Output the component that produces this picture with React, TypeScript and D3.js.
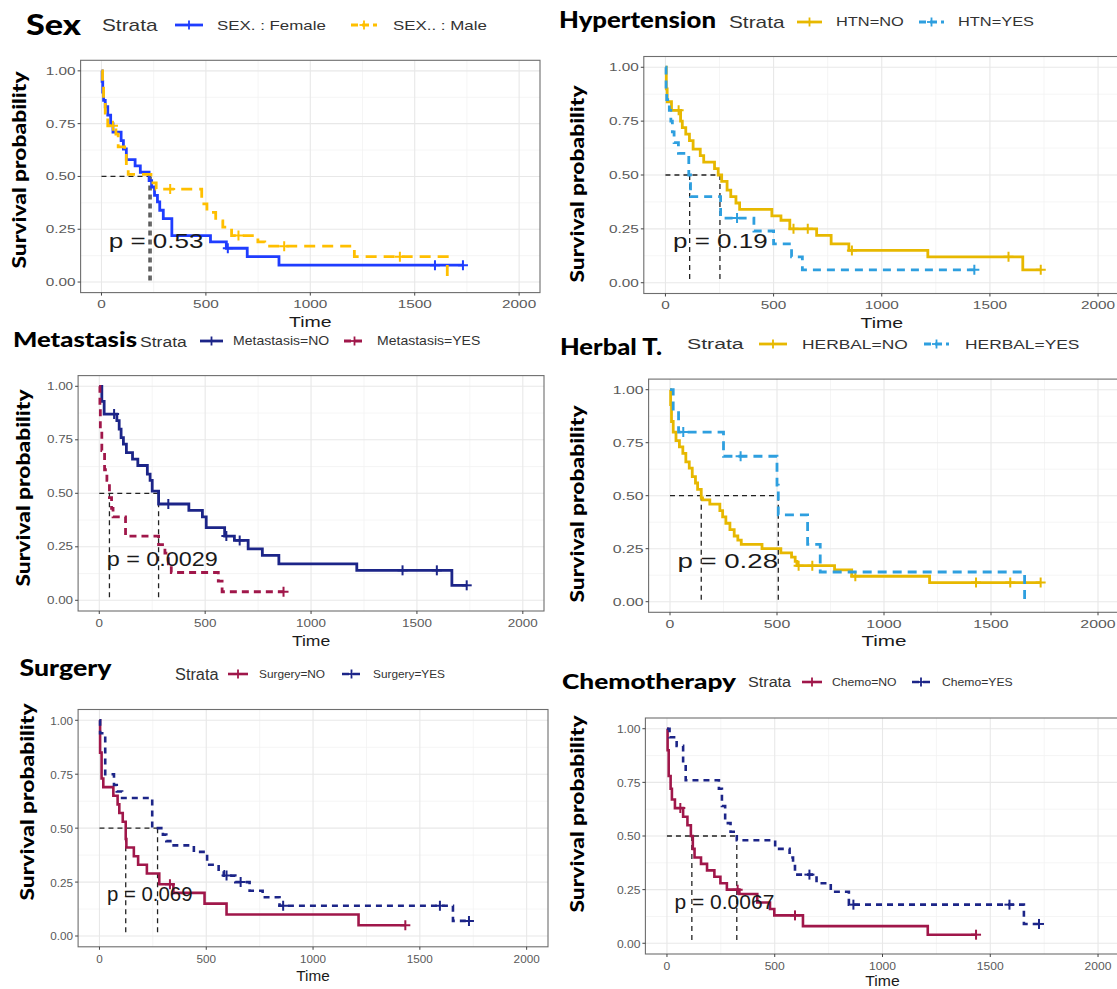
import React from 'react';
import * as d3 from 'd3';

type Step = [number, number];

// axis ticks
const timeTicks = [0, 500, 1000, 1500, 2000];
const timeMinor = [250, 750, 1250, 1750];
const survTicks = [0, 0.25, 0.5, 0.75, 1];
const survMinor = [0.125, 0.375, 0.625, 0.875];
const survLabels = ['0.00', '0.25', '0.50', '0.75', '1.00'];

// Sex
const sexFemaleSteps: Step[] = [[3, 0.95], [6, 0.9], [10, 0.86], [18, 0.83], [30, 0.79], [44, 0.75], [55, 0.71], [94, 0.67], [105, 0.63], [119, 0.58], [161, 0.55], [186, 0.52], [228, 0.48], [240, 0.45], [254, 0.41], [268, 0.38], [279, 0.34], [296, 0.3], [337, 0.22], [522, 0.19], [598, 0.16], [698, 0.12], [850, 0.08]];
const sexFemaleCensor = [605, 1597, 1731];
const sexMaleSteps: Step[] = [[5, 0.93], [10, 0.87], [18, 0.8], [30, 0.74], [69, 0.7], [80, 0.64], [111, 0.6], [119, 0.55], [128, 0.51], [237, 0.47], [262, 0.44], [480, 0.37], [505, 0.33], [547, 0.29], [581, 0.26], [623, 0.22], [749, 0.19], [782, 0.17], [1211, 0.12], [1656, 0.0]];
const sexMaleCensor = [55, 329, 656, 875, 1429];

// Hypertension
const htnNoSteps: Step[] = [[4, 0.9], [8, 0.84], [28, 0.8], [70, 0.75], [78, 0.72], [94, 0.69], [111, 0.66], [128, 0.62], [161, 0.59], [177, 0.56], [227, 0.53], [244, 0.5], [260, 0.47], [285, 0.43], [302, 0.4], [326, 0.37], [343, 0.34], [492, 0.31], [534, 0.29], [575, 0.25], [699, 0.22], [766, 0.18], [848, 0.15], [1213, 0.12], [1652, 0.06]];
const htnNoCensor = [61, 592, 658, 862, 1586, 1735];
const htnYesSteps: Step[] = [[3, 0.9], [6, 0.85], [18, 0.8], [25, 0.75], [32, 0.7], [40, 0.65], [60, 0.6], [108, 0.5], [116, 0.4], [255, 0.3], [409, 0.24], [500, 0.18], [583, 0.12], [633, 0.06]];
const htnYesCensor = [331, 1428];

// Metastasis
const metNoSteps: Step[] = [[12, 0.93], [23, 0.87], [83, 0.84], [94, 0.8], [103, 0.76], [114, 0.73], [128, 0.69], [157, 0.66], [182, 0.63], [227, 0.59], [240, 0.56], [250, 0.51], [280, 0.45], [423, 0.42], [487, 0.39], [505, 0.34], [592, 0.3], [638, 0.28], [703, 0.24], [770, 0.21], [848, 0.17], [1216, 0.14], [1665, 0.07]];
const metNoCensor = [70, 326, 600, 663, 1432, 1594, 1735];
const metYesSteps: Step[] = [[3, 0.91], [5, 0.8], [12, 0.7], [25, 0.61], [36, 0.56], [48, 0.48], [58, 0.43], [65, 0.39], [124, 0.3], [280, 0.26], [310, 0.22], [326, 0.17], [340, 0.13], [562, 0.09], [580, 0.04]];
const metYesCensor = [870];

// Herbal treatment
const herbNoSteps: Step[] = [[3, 0.93], [7, 0.85], [15, 0.8], [28, 0.76], [44, 0.73], [60, 0.7], [74, 0.66], [90, 0.63], [104, 0.59], [119, 0.56], [129, 0.53], [146, 0.49], [152, 0.48], [186, 0.46], [233, 0.43], [246, 0.4], [261, 0.37], [280, 0.34], [300, 0.31], [317, 0.29], [333, 0.27], [430, 0.25], [518, 0.23], [568, 0.21], [585, 0.19], [593, 0.17], [769, 0.15], [849, 0.12], [1213, 0.09]];
const herbNoCensor = [601, 665, 866, 1430, 1590, 1732];
const herbYesSteps: Step[] = [[15, 0.9], [40, 0.8], [250, 0.686], [500, 0.55], [506, 0.41], [643, 0.27], [702, 0.14], [1657, 0.0]];
const herbYesCensor = [62, 330];

// Surgery
const surgNoSteps: Step[] = [[3, 0.85], [10, 0.73], [18, 0.69], [65, 0.65], [85, 0.61], [93, 0.57], [109, 0.53], [123, 0.45], [126, 0.41], [161, 0.37], [181, 0.33], [222, 0.29], [280, 0.24], [346, 0.2], [492, 0.15], [595, 0.1], [1213, 0.05]];
const surgNoCensor = [330, 1432];
const surgYesSteps: Step[] = [[3, 0.94], [27, 0.75], [68, 0.7], [81, 0.67], [106, 0.64], [247, 0.5], [297, 0.47], [313, 0.44], [338, 0.42], [442, 0.39], [504, 0.33], [558, 0.3], [582, 0.28], [636, 0.25], [703, 0.21], [764, 0.18], [843, 0.14], [1655, 0.07]];
const surgYesCensor = [595, 661, 860, 1594, 1730];

// Chemotherapy
const chemoNoSteps: Step[] = [[3, 0.9], [8, 0.78], [17, 0.72], [23, 0.67], [37, 0.63], [75, 0.59], [95, 0.55], [111, 0.5], [120, 0.44], [128, 0.4], [158, 0.37], [186, 0.34], [220, 0.31], [248, 0.28], [278, 0.25], [336, 0.23], [419, 0.19], [478, 0.16], [498, 0.13], [631, 0.08], [1210, 0.04]];
const chemoNoCensor = [62, 328, 594, 1434];
const chemoYesSteps: Step[] = [[12, 0.96], [45, 0.92], [75, 0.84], [87, 0.76], [241, 0.72], [255, 0.64], [270, 0.56], [295, 0.52], [324, 0.48], [502, 0.44], [569, 0.4], [585, 0.36], [594, 0.32], [694, 0.28], [760, 0.24], [844, 0.18], [1656, 0.09]];
const chemoYesCensor = [661, 865, 1589, 1726];

const pValues = ['0.53', '0.19', '0.0029', '0.28', '0.069', '0.0067'];

const GOLD = '#E7B800';
const SKY = '#2E9FDF';
const NAVY = '#1c2588';
const CRIMSON = '#a0174a';

interface Curve {
  label: string;
  steps: Step[];
  censor: number[];
  end: number;
  color: string;
  dashed: boolean;
}

interface PanelCfg {
  title: string;
  titlePos: [number, number, number, number]; // x, baseline, size, width
  frame: { x: number; y: number; w: number; h: number };
  sx: number;
  legendY: number;
  strataX: number;
  strataSize: number;
  keys: [number, number, number][]; // key start, key end, label x
  labelSize: number;
  tickSize: number;
  ylab: [number, number];
  lw: number;
  dash: string;
  p: string;
  curves: Curve[];
}

const FONT = "'Liberation Sans', Arial, Helvetica, sans-serif";
const TITLE_FONT = "Lato, 'Open Sans', sans-serif";

function survAt(steps: Step[], t: number) {
  let s = 1;
  for (const [st, sv] of steps) if (st <= t) s = sv;
  return s;
}

// survfit-style median: first time S < 0.5, midpoint if S sits exactly at 0.5
function medianOf(steps: Step[]) {
  for (let i = 0; i < steps.length; i++) {
    const [t, s] = steps[i];
    if (s < 0.5) return t;
    if (s === 0.5) return i + 1 < steps.length ? (t + steps[i + 1][0]) / 2 : t;
  }
  return NaN;
}

const lastOf = (steps: Step[], censor: number[]) =>
  Math.max(steps[steps.length - 1][0], censor.length ? censor[censor.length - 1] : 0);

const mk = (label: string, steps: Step[], censor: number[], color: string, dashed: boolean): Curve => ({
  label, steps, censor, end: lastOf(steps, censor), color, dashed,
});

const panels: PanelCfg[] = [
  {
    title: 'Sex', titlePos: [26, 35, 28, 55],
    frame: { x: 80.6, y: 60.3, w: 459.4, h: 232.3 }, sx: 1.3,
    legendY: 25, strataX: 102, strataSize: 16, keys: [[175, 203, 217], [351, 377, 393]], labelSize: 13,
    tickSize: 11.8, ylab: [19, 170], lw: 2.8, dash: '11,7', p: pValues[0],
    curves: [
      mk('SEX. : Female', sexFemaleSteps, sexFemaleCensor, '#1f3dff', false),
      mk('SEX.. : Male', sexMaleSteps, sexMaleCensor, '#ffbf00', true),
    ],
  },
  {
    title: 'Hypertension', titlePos: [559, 28, 22, 157],
    frame: { x: 643.8, y: 56.5, w: 475.9, h: 237 }, sx: 1.3,
    legendY: 22, strataX: 729, strataSize: 16, keys: [[797, 822, 836], [919, 944, 958]], labelSize: 12.6,
    tickSize: 11.8, ylab: [576.5, 184], lw: 2.8, dash: '8,6', p: pValues[1],
    curves: [
      mk('HTN=NO', htnNoSteps, htnNoCensor, GOLD, false),
      mk('HTN=YES', htnYesSteps, htnYesCensor, SKY, true),
    ],
  },
  {
    title: 'Metastasis', titlePos: [13, 347, 21, 124],
    frame: { x: 78.1, y: 375.6, w: 465.9, h: 235.4 }, sx: 1.17,
    legendY: 341, strataX: 140, strataSize: 15, keys: [[200, 223, 233], [344, 365, 377]], labelSize: 12,
    tickSize: 11.5, ylab: [23, 488], lw: 2.8, dash: '7,5', p: pValues[2],
    curves: [
      mk('Metastasis=NO', metNoSteps, metNoCensor, NAVY, false),
      mk('Metastasis=YES', metYesSteps, metYesCensor, CRIMSON, true),
    ],
  },
  {
    title: 'Herbal T.', titlePos: [560, 355, 23, 102],
    frame: { x: 648.6, y: 379.1, w: 470.8, h: 233.2 }, sx: 1.38,
    legendY: 344, strataX: 687, strataSize: 15.4, keys: [[759, 787, 802], [924, 949, 965]], labelSize: 12.6,
    tickSize: 11.5, ylab: [577, 504], lw: 2.8, dash: '9,6', p: pValues[3],
    curves: [
      mk('HERBAL=NO', herbNoSteps, herbNoCensor, GOLD, false),
      mk('HERBAL=YES', herbYesSteps, herbYesCensor, SKY, true),
    ],
  },
  {
    title: 'Surgery', titlePos: [19.5, 676, 22, 92],
    frame: { x: 78.1, y: 709.5, w: 469.9, h: 237.3 }, sx: 1.02,
    legendY: 674, strataX: 175, strataSize: 16, keys: [[228, 248, 259], [342, 361, 373]], labelSize: 11.6,
    tickSize: 11.5, ylab: [26.5, 802], lw: 2.6, dash: '6,5', p: pValues[4],
    curves: [
      mk('Surgery=NO', surgNoSteps, surgNoCensor, CRIMSON, false),
      mk('Surgery=YES', surgYesSteps, surgYesCensor, NAVY, true),
    ],
  },
  {
    title: 'Chemotherapy', titlePos: [562, 689, 21, 174],
    frame: { x: 645.4, y: 718, w: 474.2, h: 236 }, sx: 1.05,
    legendY: 682, strataX: 748, strataSize: 15.4, keys: [[802, 822, 832], [912, 930, 942]], labelSize: 11.6,
    tickSize: 11.5, ylab: [577, 814], lw: 2.6, dash: '6,5', p: pValues[5],
    curves: [
      mk('Chemo=NO', chemoNoSteps, chemoNoCensor, CRIMSON, false),
      mk('Chemo=YES', chemoYesSteps, chemoYesCensor, NAVY, true),
    ],
  },
];

const Plus: React.FC<{ x: number; y: number; color: string; r?: number; w?: number }> = ({ x, y, color, r = 5, w = 2 }) => (
  <g stroke={color} strokeWidth={w}>
    <line x1={x - r} x2={x + r} y1={y} y2={y} />
    <line x1={x} x2={x} y1={y - r} y2={y + r} />
  </g>
);

const Panel: React.FC<{ cfg: PanelCfg }> = ({ cfg }) => {
  const { frame, sx } = cfg;
  const x = d3.scaleLinear().domain([-100, 2100]).range([frame.x, frame.x + frame.w]);
  const y = d3.scaleLinear().domain([-0.05, 1.05]).range([frame.y + frame.h, frame.y]);
  const line = d3.line<Step>().x(d => x(d[0])).y(d => y(d[1])).curve(d3.curveStepAfter);
  const medians = cfg.curves.map(c => medianOf(c.steps));
  const maxMed = d3.max(medians) ?? 0;
  const bottom = frame.y + frame.h;
  const clipId = `clip-${cfg.title.replace(/\W/g, '')}`;
  const [tx, tb, ts, tw] = cfg.titlePos;

  return (
    <g>
      {/* title + legend */}
      <text x={tx} y={tb} fontFamily={TITLE_FONT} fontWeight={900} fontSize={ts} fill="#000"
        textLength={tw} lengthAdjust="spacingAndGlyphs">{cfg.title}</text>
      <text transform={`translate(${cfg.strataX},${cfg.legendY}) scale(${sx},1)`} fontFamily={FONT}
        fontSize={cfg.strataSize} fill="#333" dominantBaseline="central">Strata</text>
      {cfg.curves.map((c, i) => {
        const [k0, k1, lx] = cfg.keys[i];
        return (
          <g key={c.label}>
            <line x1={k0} x2={k1} y1={cfg.legendY} y2={cfg.legendY} stroke={c.color} strokeWidth={cfg.lw}
              strokeDasharray={c.dashed ? '7,4' : undefined} />
            <Plus x={(k0 + k1) / 2} y={cfg.legendY} color={c.color} r={4.5} w={1.8} />
            <text transform={`translate(${lx},${cfg.legendY}) scale(${sx},1)`} fontFamily={FONT}
              fontSize={cfg.labelSize} fill="#333" dominantBaseline="central">{c.label}</text>
          </g>
        );
      })}

      {/* panel */}
      <defs>
        <clipPath id={clipId}>
          <rect x={frame.x} y={frame.y} width={frame.w} height={frame.h} />
        </clipPath>
      </defs>
      <rect x={frame.x} y={frame.y} width={frame.w} height={frame.h} fill="#fff" />
      <g clipPath={`url(#${clipId})`}>
        {timeMinor.map(t => <line key={'xm' + t} x1={x(t)} x2={x(t)} y1={frame.y} y2={bottom} stroke="#f3f3f3" strokeWidth={0.8} />)}
        {survMinor.map(s => <line key={'ym' + s} x1={frame.x} x2={frame.x + frame.w} y1={y(s)} y2={y(s)} stroke="#f3f3f3" strokeWidth={0.8} />)}
        {timeTicks.map(t => <line key={'xg' + t} x1={x(t)} x2={x(t)} y1={frame.y} y2={bottom} stroke="#e8e8e8" strokeWidth={1.1} />)}
        {survTicks.map(s => <line key={'yg' + s} x1={frame.x} x2={frame.x + frame.w} y1={y(s)} y2={y(s)} stroke="#e8e8e8" strokeWidth={1.1} />)}

        {/* median lines */}
        <line x1={x(0)} x2={x(maxMed)} y1={y(0.5)} y2={y(0.5)} stroke="#222" strokeWidth={1.3} strokeDasharray="5,4" />
        {medians.map((m, i) => (
          <line key={'med' + i} x1={x(m)} x2={x(m)} y1={y(0.5)} y2={y(0)} stroke="#222" strokeWidth={1.3} strokeDasharray="5,4" />
        ))}

        {cfg.curves.map(c => {
          const last = c.steps[c.steps.length - 1][1];
          const pts: Step[] = [[0, 1], ...c.steps, [c.end, last]];
          return (
            <g key={c.label}>
              <path d={line(pts) ?? ''} fill="none" stroke={c.color} strokeWidth={cfg.lw}
                strokeDasharray={c.dashed ? cfg.dash : undefined} />
              {c.censor.map(t => <Plus key={t} x={x(t)} y={y(survAt(c.steps, t))} color={c.color} r={5} w={2} />)}
            </g>
          );
        })}

        <text transform={`translate(${x(35)},${y(0.16)}) scale(${sx},1)`} fontFamily={FONT} fontSize={20} fill="#1a1a1a">
          {`p = ${cfg.p}`}
        </text>
      </g>
      <rect x={frame.x} y={frame.y} width={frame.w} height={frame.h} fill="none" stroke="#6e6e6e" strokeWidth={1.1} />

      {/* axes */}
      {survTicks.map((s, i) => (
        <g key={'yt' + s}>
          <line x1={frame.x - 3} x2={frame.x} y1={y(s)} y2={y(s)} stroke="#444" strokeWidth={1} />
          <text transform={`translate(${frame.x - 5},${y(s)}) scale(${sx},1)`} textAnchor="end" dominantBaseline="central"
            fontFamily={FONT} fontSize={cfg.tickSize} fill="#5a5a5a">{survLabels[i]}</text>
        </g>
      ))}
      {timeTicks.map(t => (
        <g key={'xt' + t}>
          <line x1={x(t)} x2={x(t)} y1={bottom} y2={bottom + 3} stroke="#444" strokeWidth={1} />
          <text transform={`translate(${x(t)},${bottom + 12}) scale(${sx},1)`} textAnchor="middle" dominantBaseline="central"
            fontFamily={FONT} fontSize={cfg.tickSize} fill="#5a5a5a">{d3.format('d')(t)}</text>
        </g>
      ))}
      <text transform={`translate(${x(1000)},${Math.min(bottom + 29, 981)}) scale(${sx},1)`} textAnchor="middle" dominantBaseline="central"
        fontFamily={FONT} fontSize={15} fill="#1a1a1a">Time</text>
      <text transform={`translate(${cfg.ylab[0]},${cfg.ylab[1]}) rotate(-90)`} textAnchor="middle" dominantBaseline="central"
        fontFamily={TITLE_FONT} fontWeight={900} fontSize={18} fill="#000" textLength={197} lengthAdjust="spacingAndGlyphs">
        Survival probability
      </text>
    </g>
  );
};

export default function App() {
  return (
    <div style={{ position: 'absolute', left: 0, top: 0, width: 1117, height: 989, background: '#fff', overflow: 'hidden' }}>
      <svg width={1117} height={989} viewBox="0 0 1117 989" style={{ display: 'block' }}>
        <rect width={1117} height={989} fill="#fff" />
        {panels.map(p => <Panel key={p.title} cfg={p} />)}
      </svg>
    </div>
  );
}
